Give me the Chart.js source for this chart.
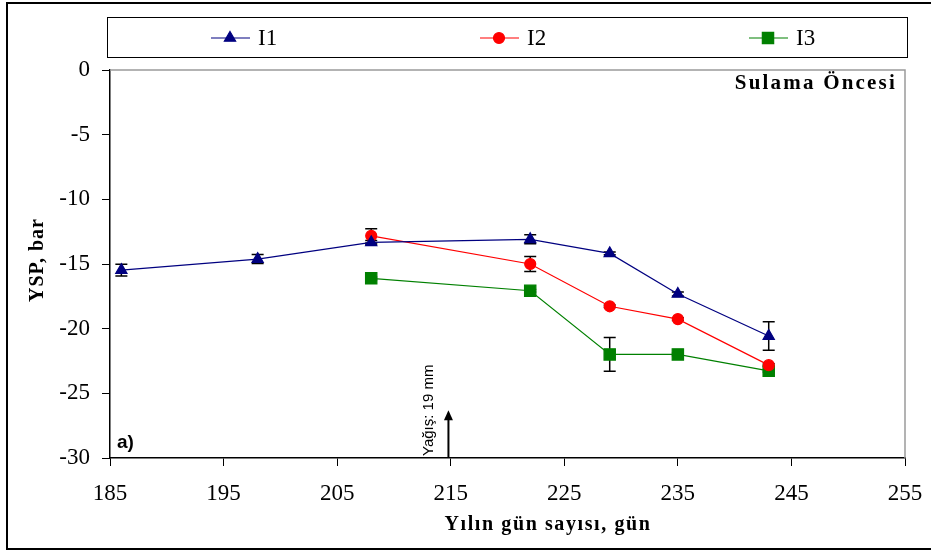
<!DOCTYPE html>
<html>
<head>
<meta charset="utf-8">
<script src="https://cdn.jsdelivr.net/npm/chart.js@4/dist/chart.umd.min.js"></script>
<style>
    html, body { margin: 0; padding: 0; background: #fff; }
    canvas { display: block; }
</style>
</head>
<body>
<canvas id="yspChart" width="931" height="554"></canvas>
<script>
// Day-of-year sampling points
const daysI1 = [186, 198, 208, 222, 229, 235, 243];
const daysI2 = [208, 222, 229, 235, 243];
const daysI3 = [208, 222, 229, 235, 243];

// Leaf water potential (bar) and their error margins
const yspI1 = [-15.47, -14.62, -13.33, -13.09, -14.18, -17.32, -20.57];
const errI1 = [0.45, 0.35, 0.15, 0.35, 0.1, 0.15, 1.1];
const yspI2 = [-12.82, -15.0, -18.27, -19.26, -22.82];
const errI2 = [0.55, 0.58, 0.1, 0.1, 0.1];
const yspI3 = [-16.11, -17.07, -21.99, -21.99, -23.26];
const errI3 = [0.1, 0.1, 1.3, 0.1, 0.1];

const seriesLabels = ['I1', 'I2', 'I3'];
const xTicks = [185, 195, 205, 215, 225, 235, 245, 255];
const yTicks = [0, -5, -10, -15, -20, -25, -30];

// Rain event marker
const rainDay = 214.8;
const rainArrowTop = -26.3;
const rainLabel = 'Yağış: 19 mm';

const SERIF = '"Liberation Serif", "Times New Roman", serif';
const SANS = '"Liberation Sans", Arial, sans-serif';

function toPoints(days, values) {
    return days.map((d, i) => ({ x: d, y: values[i] }));
}

const errorBarsPlugin = {
    id: 'errorBars',
    beforeDatasetsDraw(chart) {
        const ctx = chart.ctx;
        const yScale = chart.scales.y;
        ctx.save();
        ctx.strokeStyle = '#000';
        ctx.lineWidth = 1.5;
        chart.data.datasets.forEach((ds, i) => {
            const meta = chart.getDatasetMeta(i);
            meta.data.forEach((pt, j) => {
                const err = ds.errors[j];
                if (!err) return;
                const v = ds.data[j].y;
                const top = yScale.getPixelForValue(v + err);
                const bot = yScale.getPixelForValue(v - err);
                ctx.beginPath();
                ctx.moveTo(pt.x, top);
                ctx.lineTo(pt.x, bot);
                ctx.moveTo(pt.x - 6, top);
                ctx.lineTo(pt.x + 6, top);
                ctx.moveTo(pt.x - 6, bot);
                ctx.lineTo(pt.x + 6, bot);
                ctx.stroke();
            });
        });
        ctx.restore();
    },
};

const decorPlugin = {
    id: 'decor',
    afterDraw(chart) {
        const ctx = chart.ctx;
        const area = chart.chartArea;
        const xScale = chart.scales.x;
        const yScale = chart.scales.y;
        ctx.save();

        // outer frame
        ctx.strokeStyle = '#000';
        ctx.lineWidth = 2;
        ctx.strokeRect(7, 3, 940, 546);

        // gray top/right plot border
        ctx.strokeStyle = '#9a9a9a';
        ctx.lineWidth = 1.5;
        ctx.beginPath();
        ctx.moveTo(area.left, area.top);
        ctx.lineTo(area.right, area.top);
        ctx.lineTo(area.right, area.bottom);
        ctx.stroke();

        // legend box
        ctx.strokeStyle = '#000';
        ctx.lineWidth = 1;
        ctx.strokeRect(107.5, 17.5, 800, 40);
        const legendY = 38;
        const legendX = [211, 480, 749];
        chart.data.datasets.forEach((ds, i) => {
            const x0 = legendX[i];
            ctx.strokeStyle = ds.borderColor;
            ctx.lineWidth = 1.2;
            ctx.beginPath();
            ctx.moveTo(x0, legendY);
            ctx.lineTo(x0 + 39, legendY);
            ctx.stroke();
            ctx.fillStyle = ds.pointBackgroundColor;
            ctx.strokeStyle = ds.pointBackgroundColor;
            Chart.helpers.drawPoint(ctx, {
                pointStyle: ds.pointStyle,
                radius: ds.pointRadius,
                rotation: 0,
                borderWidth: 1,
            }, x0 + 19, legendY);
            ctx.fillStyle = '#000';
            ctx.font = '23px ' + SERIF;
            ctx.textAlign = 'left';
            ctx.textBaseline = 'middle';
            ctx.fillText(ds.label, x0 + 47, legendY + 1);
        });

        // panel title
        ctx.fillStyle = '#000';
        ctx.font = 'bold 21px ' + SERIF;
        ctx.letterSpacing = '2.2px';
        ctx.textAlign = 'right';
        ctx.textBaseline = 'middle';
        ctx.fillText('Sulama Öncesi', 897, 84);

        // axis titles
        ctx.font = 'bold 20px ' + SERIF;
        ctx.letterSpacing = '1.6px';
        ctx.textAlign = 'center';
        ctx.fillText('Yılın gün sayısı, gün', 548, 525);
        ctx.save();
        ctx.translate(38, 260);
        ctx.rotate(-Math.PI / 2);
        ctx.letterSpacing = '1px';
        ctx.fillText('YSP, bar', 0, 0);
        ctx.restore();
        ctx.letterSpacing = '0px';

        // panel letter
        ctx.font = 'bold 19px ' + SANS;
        ctx.textAlign = 'left';
        ctx.fillText('a)', 117, 443);

        // rain arrow
        const ax = xScale.getPixelForValue(rainDay);
        const aBottom = yScale.getPixelForValue(-30);
        const aTop = yScale.getPixelForValue(rainArrowTop);
        ctx.strokeStyle = '#000';
        ctx.lineWidth = 2;
        ctx.beginPath();
        ctx.moveTo(ax, aBottom);
        ctx.lineTo(ax, aTop + 8);
        ctx.stroke();
        ctx.beginPath();
        ctx.moveTo(ax, aTop);
        ctx.lineTo(ax - 4.5, aTop + 10);
        ctx.lineTo(ax + 4.5, aTop + 10);
        ctx.closePath();
        ctx.fill();

        ctx.save();
        ctx.translate(ax - 20, aBottom - 2);
        ctx.rotate(-Math.PI / 2);
        ctx.font = '15px ' + SANS;
        ctx.textAlign = 'left';
        ctx.textBaseline = 'middle';
        ctx.fillText(rainLabel, 0, 0);
        ctx.restore();

        ctx.restore();
    },
};

const ctx = document.getElementById('yspChart').getContext('2d');
new Chart(ctx, {
    type: 'line',
    data: {
        datasets: [
            {
                label: seriesLabels[0],
                data: toPoints(daysI1, yspI1),
                errors: errI1,
                borderColor: '#000080',
                pointBackgroundColor: '#000080',
                pointBorderColor: '#000080',
                pointStyle: 'triangle',
                pointRadius: 6.5,
                borderWidth: 1.2,
            },
            {
                label: seriesLabels[1],
                data: toPoints(daysI2, yspI2),
                errors: errI2,
                borderColor: '#ff0000',
                pointBackgroundColor: '#ff0000',
                pointBorderColor: '#ff0000',
                pointStyle: 'circle',
                pointRadius: 5.5,
                borderWidth: 1.2,
            },
            {
                label: seriesLabels[2],
                data: toPoints(daysI3, yspI3),
                errors: errI3,
                borderColor: '#008000',
                pointBackgroundColor: '#008000',
                pointBorderColor: '#008000',
                pointStyle: 'rect',
                pointRadius: 8,
                borderWidth: 1.2,
            },
        ],
    },
    options: {
        responsive: false,
        animation: false,
        layout: {
            padding: { left: 0, top: 70, right: 26, bottom: 0 },
        },
        plugins: {
            legend: { display: false },
            tooltip: { enabled: false },
        },
        scales: {
            x: {
                type: 'linear',
                min: 185,
                max: 255,
                afterBuildTicks: (scale) => {
                    scale.ticks = xTicks.map((v) => ({ value: v }));
                },
                afterFit: (scale) => {
                    scale.height = 96;
                    scale.paddingLeft = 0;
                    scale.paddingRight = 0;
                },
                grid: {
                    drawOnChartArea: false,
                    drawTicks: true,
                    tickLength: 8,
                    tickColor: '#000',
                },
                border: { color: '#000', width: 1.5 },
                ticks: {
                    color: '#000',
                    padding: 14,
                    maxRotation: 0,
                    font: { family: SERIF, size: 23 },
                },
            },
            y: {
                type: 'linear',
                min: -30,
                max: 0,
                afterBuildTicks: (scale) => {
                    scale.ticks = yTicks.map((v) => ({ value: v }));
                },
                afterFit: (scale) => {
                    scale.width = 110;
                    scale.paddingTop = 0;
                    scale.paddingBottom = 0;
                },
                grid: {
                    drawOnChartArea: false,
                    drawTicks: true,
                    tickLength: 8,
                    tickColor: '#000',
                },
                border: { color: '#000', width: 1.5 },
                ticks: {
                    color: '#000',
                    padding: 12,
                    font: { family: SERIF, size: 23 },
                },
            },
        },
    },
    plugins: [errorBarsPlugin, decorPlugin],
});
</script>
</body>
</html>
